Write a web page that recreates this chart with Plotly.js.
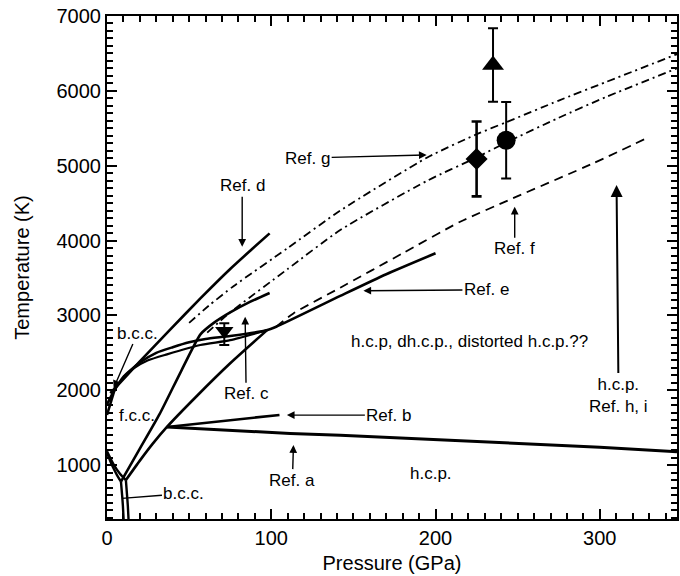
<!DOCTYPE html>
<html><head><meta charset="utf-8">
<script src="https://cdn.plot.ly/plotly-3.0.1.min.js"></script>
<style>html,body{margin:0;padding:0;background:#fff}#chart{width:680px;height:576px}</style>
</head><body><div id="chart"></div>
<script>
// ---- Data (Pressure in GPa, Temperature in K) ----
const meltA_P = [0, 4, 10, 20, 30, 40, 50, 60, 75, 97, 103, 142, 170, 200];
const meltA_T = [1811, 1980, 2180, 2370, 2500, 2575, 2640, 2685, 2725, 2800, 2848, 3260, 3550, 3830];
const meltB_P = [10, 16, 25, 36.5, 56.8, 75, 97];
const meltB_T = [2180, 2290, 2400, 2480, 2604, 2670, 2800];
const delta_P = [0, 1.5, 3, 4.5];
const delta_T = [1670, 1790, 1900, 2000];
const refD_P = [2, 20, 38, 57, 75, 88, 99];
const refD_T = [1960, 2385, 2800, 3230, 3620, 3880, 4096];
const refC_P = [8.5, 20, 32, 45, 57, 65, 75, 87, 99];
const refC_T = [780, 1220, 1680, 2250, 2750, 2900, 3040, 3180, 3300];
const gammaEps_P = [11.5, 20, 28, 36.5, 55, 75, 97.3];
const gammaEps_T = [800, 1060, 1290, 1510, 1930, 2360, 2800];
const refB_P = [36.5, 70, 105];
const refB_T = [1510, 1590, 1670];
const refA_P = [36.5, 70, 111.5, 142, 200, 250, 300, 347];
const refA_T = [1510, 1470, 1423, 1400, 1340, 1290, 1240, 1180];
const agA_P = [0, 3, 6, 8.5];
const agA_T = [1160, 1000, 870, 780];
const aeA_P = [8.5, 9.2, 9.7, 10.1];
const aeA_T = [780, 600, 450, 280];
const agB_P = [0, 4, 8, 11.5];
const agB_T = [1185, 1010, 880, 800];
const aeB_P = [11.5, 12.2, 12.7, 13.1];
const aeB_T = [800, 600, 450, 280];
const refGup_P = [50, 62, 77, 110, 142, 195, 225, 243, 275, 304, 347];
const refGup_T = [2900, 3130, 3390, 3900, 4400, 5110, 5420, 5580, 5870, 6120, 6490];
const refGlo_P = [61, 75, 110, 142, 195, 225, 243, 275, 304, 347];
const refGlo_T = [2770, 3040, 3620, 4140, 4800, 5110, 5310, 5640, 5920, 6300];
const refF_P = [103, 113.5, 142, 180, 215, 247, 296, 330.5];
const refF_T = [2850, 3027, 3370, 3830, 4251, 4564, 5032, 5388];
// Experimental points with error bars
const triUp = {P: 235, T: 6345, err: 490};
const circ = {P: 243, T: 5340, err: 510};
const diam = {P: 225, T: 5090, err: 500};
const triDown = {P: 71.4, T: 2791, errPlus: 103, errMinus: 187};

const K = '#000000';
function solid(x, y, w, shape) {
  return {x: x, y: y, mode: 'lines', line: {color: K, width: w || 2.6, shape: shape || 'spline', smoothing: 0.6}, hoverinfo: 'skip'};
}
const traces = [
  solid(meltA_P, meltA_T), solid(meltB_P, meltB_T, 2.2), solid(delta_P, delta_T, 2.6, 'linear'),
  solid(refD_P, refD_T), solid(refC_P, refC_T), solid(gammaEps_P, gammaEps_T),
  solid(refB_P, refB_T, 2.6, 'linear'), solid(refA_P, refA_T, 3, 'linear'),
  solid(agA_P, agA_T, 2.4), solid(aeA_P, aeA_T, 2.4), solid(agB_P, agB_T, 2.4), solid(aeB_P, aeB_T, 2.4),
  {x: refGup_P, y: refGup_T, mode: 'lines', line: {color: K, width: 1.8, dash: '8px,4px,2px,4px', shape: 'spline', smoothing: 0.6}},
  {x: refGlo_P, y: refGlo_T, mode: 'lines', line: {color: K, width: 1.8, dash: '8px,4px,2px,4px', shape: 'spline', smoothing: 0.6}},
  {x: refF_P, y: refF_T, mode: 'lines', line: {color: K, width: 1.8, dash: '9px,6px', shape: 'spline', smoothing: 0.6}},
  {x: [triUp.P], y: [triUp.T], mode: 'markers', marker: {symbol: 'triangle-up', size: 19, color: K},
   error_y: {type: 'data', array: [triUp.err], color: K, thickness: 2, width: 5}},
  {x: [circ.P], y: [circ.T], mode: 'markers', marker: {symbol: 'circle', size: 19, color: K},
   error_y: {type: 'data', array: [circ.err], color: K, thickness: 2, width: 5}},
  {x: [diam.P], y: [diam.T], mode: 'markers', marker: {symbol: 'diamond', size: 17, color: K},
   error_y: {type: 'data', array: [diam.err], color: K, thickness: 2.6, width: 5}},
  {x: [triDown.P], y: [triDown.T], mode: 'markers', marker: {symbol: 'triangle-down', size: 16, color: K},
   error_y: {type: 'data', symmetric: false, array: [triDown.errPlus], arrayminus: [triDown.errMinus], color: K, thickness: 2, width: 5}}
];

const F = 'Liberation Sans, Arial, Helvetica, sans-serif';
function note(text, x, y, ax, ay, opts) {
  return Object.assign({text: text, x: x, y: y, xref: 'x', yref: 'y', ax: ax, ay: ay, axref: 'pixel', ayref: 'pixel',
    showarrow: true, arrowhead: 2, arrowsize: 1.1, arrowwidth: 1.4, arrowcolor: K,
    font: {family: F, size: 17, color: K}}, opts || {});
}
function label(text, x, y) {
  return {text: text, x: x, y: y, xref: 'x', yref: 'y', showarrow: false, font: {family: F, size: 17, color: K}};
}
const annotations = [
  note('Ref. d', 82.3, 3917, 0, -61),
  note('Ref. g', 194.6, 5143, -119, 3),
  note('Ref. f', 248.2, 4452, 0, 42),
  note('Ref. e', 156.1, 3329, 123, -1),
  note('Ref. c', 84.1, 2982, 1, 77),
  note('Ref. b', 109.5, 1668, 102, 0),
  note('Ref. a', 113.5, 1267, -1, 35),
  note('h.c.p.<br>Ref. h, i', 310.2, 4742, 2, 210, {arrowwidth: 2, arrowsize: 1.2}),
  note('b.c.c.', 4.05, 2029, 24, -55),
  note('b.c.c.', 9.1, 555, 62, -5, {arrowhead: 0}),
  label('f.c.c.', 18.4, 1668),
  label('h.c.p, dh.c.p., distorted h.c.p.??', 220.4, 2648),
  label('h.c.p.', 197.3, 889)
];

const layout = {
  width: 680, height: 576,
  margin: {l: 107, r: 3, t: 16, b: 57},
  showlegend: false,
  xaxis: {
    range: [0, 347], tick0: 0, dtick: 100,
    showline: true, linewidth: 2, linecolor: K, mirror: 'allticks',
    ticks: 'inside', ticklen: 10, tickwidth: 2, tickcolor: K,
    showgrid: true, gridcolor: 'rgba(0,0,0,0)', zeroline: true, zerolinecolor: K, zerolinewidth: 1,
    tickfont: {family: F, size: 20, color: K},
    minor: {dtick: 10, ticks: 'inside', ticklen: 6, tickwidth: 1.5, tickcolor: K},
    title: {text: 'Pressure (GPa)', font: {family: F, size: 20, color: K}, standoff: 8}
  },
  yaxis: {
    range: [280, 7000], tick0: 0, dtick: 1000,
    showline: true, linewidth: 2, linecolor: K, mirror: 'allticks',
    ticks: 'inside', ticklen: 10, tickwidth: 2, tickcolor: K,
    showgrid: true, gridcolor: 'rgba(0,0,0,0)', zeroline: true, zerolinecolor: K, zerolinewidth: 1,
    tickfont: {family: F, size: 20, color: K},
    minor: {dtick: 100, ticks: 'inside', ticklen: 6, tickwidth: 1.5, tickcolor: K},
    title: {text: 'Temperature (K)', font: {family: F, size: 20, color: K}, standoff: 22}
  },
  annotations: annotations
};
Plotly.newPlot('chart', traces, layout, {displayModeBar: false});
</script></body></html>
